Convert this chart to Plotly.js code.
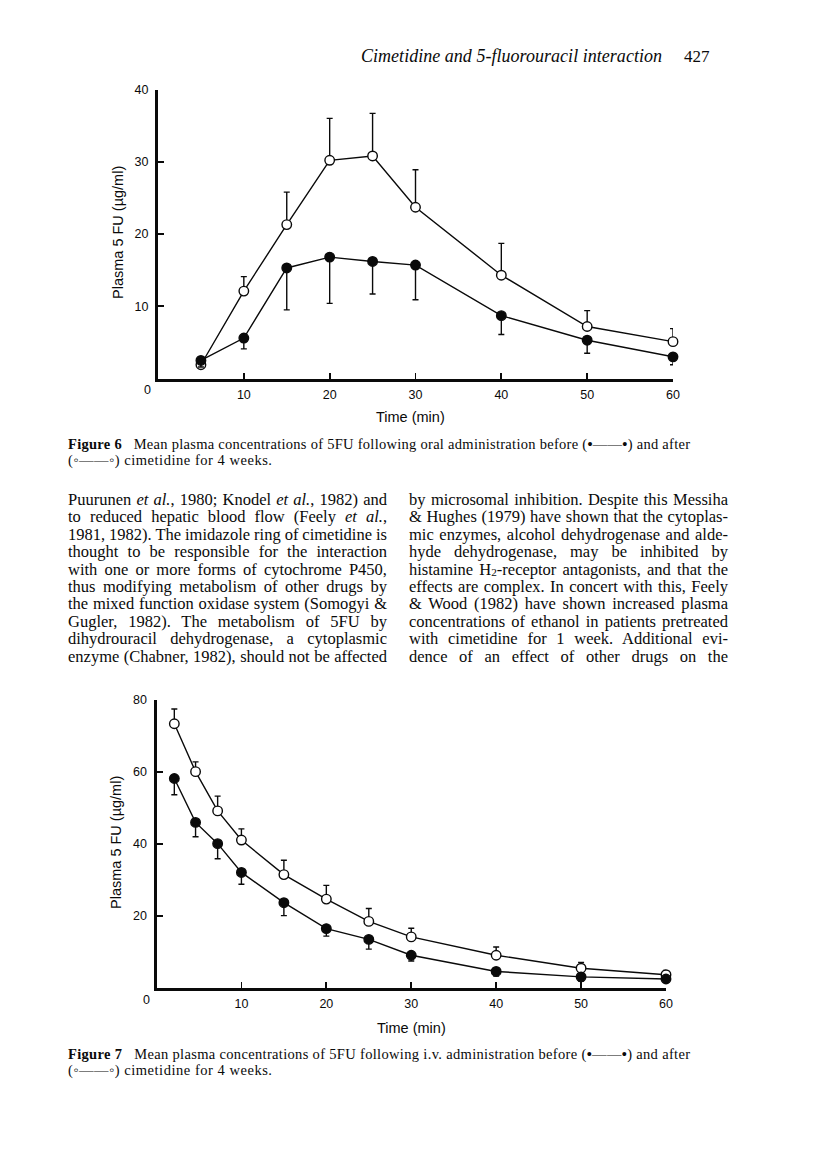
<!DOCTYPE html>
<html><head><meta charset="utf-8">
<script src="https://cdn.plot.ly/plotly-3.0.1.min.js"></script>
<style>
body{margin:0;background:#fff;}
#page{position:relative;width:816px;height:1167px;overflow:hidden;background:#fff;}
#plot{position:absolute;left:0;top:0;width:816px;height:1167px;}
.t{position:absolute;white-space:nowrap;font-family:"Liberation Serif","Times New Roman",serif;color:#0a0a0a;z-index:5;}
.t i{font-style:italic;}
.t .sub{font-size:68%;position:relative;top:1.5px;line-height:0;}
</style></head>
<body><div id="page"><div id="plot"></div></div>
<script>
// ---------- Figure 6 (oral) ----------
const times6 = [5, 10, 15, 20, 25, 30, 40, 50, 60];
const after6 = [1.9, 12.1, 21.3, 30.2, 30.8, 23.7, 14.3, 7.2, 5.1];
const after6ErrUp = [0.5, 2.0, 4.5, 5.8, 5.9, 5.2, 4.4, 2.2, 1.8];
const before6 = [2.5, 5.6, 15.3, 16.8, 16.2, 15.7, 8.7, 5.3, 3.0];
const before6ErrDown = [0.9, 1.5, 5.8, 6.4, 4.5, 4.8, 2.6, 1.8, 1.1];

// ---------- Figure 7 (i.v.) ----------
const times7 = [2.1, 4.6, 7.2, 10, 15, 20, 25, 30, 40, 50, 60];
const after7 = [73.4, 60.1, 49.2, 41.1, 31.5, 24.7, 18.5, 14.2, 9.1, 5.5, 3.7];
const after7ErrUp = [4.1, 2.7, 4.1, 3.1, 4.0, 3.8, 3.6, 2.4, 2.3, 1.6, 1.2];
const before7 = [58.2, 46.0, 40.1, 32.1, 23.7, 16.5, 13.5, 9.1, 4.6, 3.1, 2.5];
const before7ErrDown = [4.5, 4.0, 4.2, 3.3, 3.6, 2.1, 2.7, 1.6, 1.3, 1.2, 0.9];

const xTicks = [10, 20, 30, 40, 50, 60];
const yTicks6 = [10, 20, 30, 40];
const yTicks7 = [20, 40, 60, 80];

const INK = '#0a0a0a';
const zeros = n => new Array(n).fill(0);

function series(x, y, errUp, errDown, open, xa, ya) {
  return {
    x: x, y: y, xaxis: xa, yaxis: ya, type: 'scatter', mode: 'lines+markers',
    line: {color: INK, width: 1.4},
    marker: {symbol: 'circle', size: 9.5, color: open ? '#fff' : INK, line: {color: INK, width: 1.4}},
    error_y: {type: 'data', symmetric: false, array: errUp, arrayminus: errDown,
              color: INK, thickness: 1.4, width: 3},
    cliponaxis: false, hoverinfo: 'skip'
  };
}

const data = [
  series(times6, after6, after6ErrUp, zeros(times6.length), true, 'x', 'y'),
  series(times6, before6, zeros(times6.length), before6ErrDown, false, 'x', 'y'),
  series(times7, after7, after7ErrUp, zeros(times7.length), true, 'x2', 'y2'),
  series(times7, before7, zeros(times7.length), before7ErrDown, false, 'x2', 'y2')
];

const SANS = 'Liberation Sans, Arial, sans-serif';
const axCommon = {
  showline: true, linecolor: INK, linewidth: 3, mirror: false,
  ticks: 'inside', ticklen: 6, tickwidth: 1.8, tickcolor: INK,
  showgrid: false, zeroline: false, fixedrange: true,
  tickfont: {family: SANS, size: 12.5, color: INK}
};
const W = 816, H = 1167;
const px = v => v / W, py = v => 1 - v / H;

function ann(text, x, y, opts) {
  return Object.assign({text: text, x: px(x), y: py(y), xref: 'paper', yref: 'paper',
    showarrow: false, xanchor: 'center', yanchor: 'middle',
    font: {family: SANS, size: 14.5, color: INK}}, opts || {});
}

const layout = {
  width: W, height: H, margin: {l: 0, r: 0, t: 0, b: 0},
  paper_bgcolor: 'rgba(0,0,0,0)', plot_bgcolor: 'rgba(0,0,0,0)', showlegend: false,
  xaxis: Object.assign({}, axCommon, {domain: [px(158), px(673)], range: [0, 60], tickvals: xTicks, anchor: 'y', ticklabelstandoff: 2}),
  yaxis: Object.assign({}, axCommon, {domain: [py(378.5), py(89.5)], range: [0, 40], tickvals: yTicks6, anchor: 'x', ticklabelstandoff: 4}),
  xaxis2: Object.assign({}, axCommon, {domain: [px(156.5), px(666)], range: [0, 60], tickvals: xTicks, anchor: 'y2', ticklabelstandoff: 2}),
  yaxis2: Object.assign({}, axCommon, {domain: [py(988), py(700)], range: [0, 80], tickvals: yTicks7, anchor: 'x2', ticklabelstandoff: 4}),
  annotations: [
    ann('Plasma 5 FU (µg/ml)', 118, 233, {textangle: -90}),
    ann('Time (min)', 410, 417),
    ann('0', 147, 390, {font: {family: SANS, size: 12.5, color: INK}}),
    ann('Plasma 5 FU (µg/ml)', 116, 843, {textangle: -90}),
    ann('Time (min)', 411, 1028),
    ann('0', 146, 1000, {font: {family: SANS, size: 12.5, color: INK}})
  ]
};

Plotly.newPlot('plot', data, layout, {staticPlot: true, displayModeBar: false});

// ---------- page text ----------
const headerText = '<i>Cimetidine and 5-fluorouracil interaction</i>';
const pageNumber = '427';
const caption6 = ['<b>Figure 6</b>&nbsp;&nbsp; Mean plasma concentrations of 5FU following oral administration before (<b>•</b>——<b>•</b>) and after',
                  '(◦——◦) cimetidine for 4 weeks.'];
const caption7 = ['<b>Figure 7</b>&nbsp;&nbsp; Mean plasma concentrations of 5FU following i.v. administration before (<b>•</b>——<b>•</b>) and after',
                  '(◦——◦) cimetidine for 4 weeks.'];
const column1 = [
  'Puurunen <i>et al.</i>, 1980; Knodel <i>et al.</i>, 1982) and',
  'to reduced hepatic blood flow (Feely <i>et al.</i>,',
  '1981, 1982). The imidazole ring of cimetidine is',
  'thought to be responsible for the interaction',
  'with one or more forms of cytochrome P450,',
  'thus modifying metabolism of other drugs by',
  'the mixed function oxidase system (Somogyi &amp;',
  'Gugler, 1982). The metabolism of 5FU by',
  'dihydrouracil dehydrogenase, a cytoplasmic',
  'enzyme (Chabner, 1982), should not be affected'
];
const column2 = [
  'by microsomal inhibition. Despite this Messiha',
  '&amp; Hughes (1979) have shown that the cytoplas-',
  'mic enzymes, alcohol dehydrogenase and alde-',
  'hyde dehydrogenase, may be inhibited by',
  'histamine H<span class="sub">2</span>-receptor antagonists, and that the',
  'effects are complex. In concert with this, Feely',
  '&amp; Wood (1982) have shown increased plasma',
  'concentrations of ethanol in patients pretreated',
  'with cimetidine for 1 week. Additional evi-',
  'dence of an effect of other drugs on the'
];

const page = document.getElementById('page');
// baseline offset inside a box of line-height L for Liberation Serif (ascent .891, descent .216)
function placeText(html, x, baseline, size, target, mode, ls, lh) {
  const L = lh || size;
  const el = document.createElement('div');
  el.className = 't';
  el.innerHTML = html;
  el.style.fontSize = size + 'px';
  el.style.lineHeight = L + 'px';
  el.style.left = x + 'px';
  el.style.top = (baseline - ((L - 1.107 * size) / 2 + 0.891 * size)) + 'px';
  if (ls) el.style.letterSpacing = ls + 'px';
  page.appendChild(el);
  if (target) {
    const w = el.getBoundingClientRect().width;
    if (mode === 'justify') {
      const n = (el.textContent.match(/ /g) || []).length;
      if (n) el.style.wordSpacing = ((target - w) / n) + 'px';
    } else {
      const n = el.textContent.length - 1;
      el.style.letterSpacing = ((ls || 0) + (target - w) / n) + 'px';
    }
  }
  return el;
}

placeText(headerText, 361, 62, 18, 301, 'ls');
placeText(pageNumber, 684, 62, 17);
placeText(caption6[0], 68, 449, 14.5, 622, 'ls', 0, 14);
placeText(caption6[1], 68, 465, 14.5, 204, 'ls', 0, 14);
column1.forEach((s, i) => placeText(s, 68, 505 + 17.4 * i, 16.5, 319, 'justify', 0, 15));
column2.forEach((s, i) => placeText(s, 409, 505 + 17.4 * i, 16.5, 319, 'justify', 0, 15));
placeText(caption7[0], 68, 1059, 14.5, 622, 'ls', 0, 14);
placeText(caption7[1], 68, 1075, 14.5, 204, 'ls', 0, 14);
</script>
</body></html>
